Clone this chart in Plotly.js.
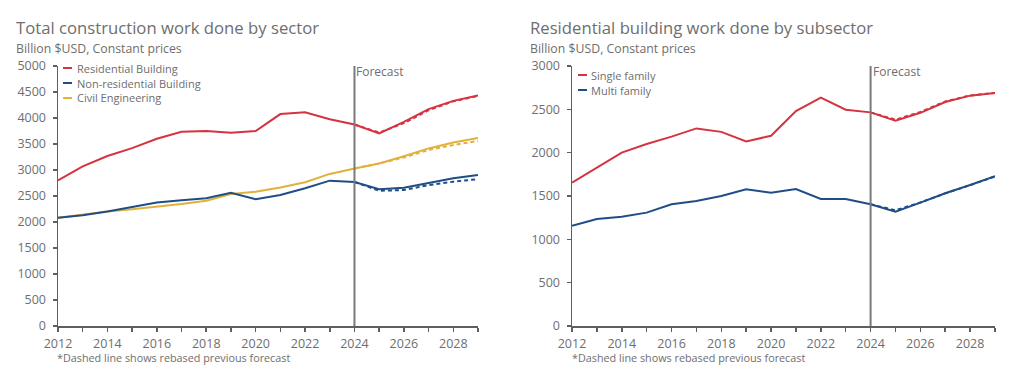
<!DOCTYPE html>
<html>
<head>
<meta charset="utf-8">
<script src="https://cdn.plot.ly/plotly-3.0.1.min.js"></script>
<style>html,body{margin:0;padding:0;background:#fff;}#chart{width:1024px;height:384px;}</style>
</head>
<body>
<div id="chart"></div>
<script>
// ---- Data ----
const years = [2012,2013,2014,2015,2016,2017,2018,2019,2020,2021,2022,2023,2024,2025,2026,2027,2028,2029];
const forecastYears = [2024,2025,2026,2027,2028,2029];

// Left chart: Total construction work done by sector (Billion $USD)
const residential    = [2800,3070,3270,3420,3600,3735,3750,3715,3750,4075,4110,3975,3875,3705,3925,4170,4330,4435];
const nonResidential = [2080,2130,2200,2290,2375,2420,2455,2560,2440,2520,2650,2795,2770,2630,2660,2750,2840,2905];
const civil          = [2080,2140,2200,2245,2295,2345,2410,2540,2580,2665,2765,2925,3030,3125,3265,3415,3530,3615];
const residentialPrev    = [3875,3720,3900,4150,4320,4425];
const nonResidentialPrev = [2770,2600,2615,2710,2775,2825];
const civilPrev          = [3030,3125,3240,3385,3480,3560];

// Right chart: Residential building work done by subsector
const singleFamily = [1655,1830,2000,2100,2185,2280,2240,2130,2195,2480,2635,2495,2465,2370,2460,2585,2658,2688];
const multiFamily  = [1155,1235,1260,1308,1405,1442,1500,1577,1538,1581,1465,1465,1404,1319,1423,1531,1627,1730];
const singleFamilyPrev = [2465,2380,2470,2590,2660,2690];
const multiFamilyPrev  = [1404,1335,1425,1530,1625,1725];

const leftLegend  = ['Residential Building', 'Non-residential Building', 'Civil Engineering'];
const rightLegend = ['Single family', 'Multi family'];
const forecastStart = 2024;

// ---- Styling ----
const RED = '#d5333f', BLUE = '#1f4d87', GOLD = '#e2b13a';
const TXT = '#6e6e6e', AX = '#5f5f5f';
const FONT = 'Open Sans, Noto Sans, sans-serif';
const W = 1024, H = 384;
const px = x => x / W;
const py = y => 1 - y / H;

function line(x, y, color, xa, ya, dash) {
  return {x: x, y: y, type: 'scatter', mode: 'lines', xaxis: xa, yaxis: ya,
          line: {color: color, width: 2, dash: dash || 'solid'}, showlegend: false, hoverinfo: 'x+y'};
}

const traces = [
  line(forecastYears, residentialPrev, RED, 'x', 'y', '4px,3px'),
  line(forecastYears, nonResidentialPrev, BLUE, 'x', 'y', '4px,3px'),
  line(forecastYears, civilPrev, GOLD, 'x', 'y', '4px,3px'),
  line(years, residential, RED, 'x', 'y'),
  line(years, civil, GOLD, 'x', 'y'),
  line(years, nonResidential, BLUE, 'x', 'y'),
  line(forecastYears, singleFamilyPrev, RED, 'x2', 'y2', '4px,3px'),
  line(forecastYears, multiFamilyPrev, BLUE, 'x2', 'y2', '4px,3px'),
  line(years, singleFamily, RED, 'x2', 'y2'),
  line(years, multiFamily, BLUE, 'x2', 'y2')
];

function xAxis(domain, anchor) {
  return {domain: domain, anchor: anchor, range: [2012, 2029], dtick: 2, tick0: 2012,
          showgrid: false, zeroline: false, showline: true, linecolor: AX, linewidth: 1.5,
          ticks: 'outside', ticklen: 4, tickcolor: AX, tickwidth: 1.5, ticklabelstandoff: 1,
          minor: {dtick: 1, ticks: 'outside', ticklen: 4, tickcolor: AX, tickwidth: 1.5},
          tickfont: {family: FONT, size: 12.5, color: TXT}, fixedrange: true};
}
function yAxis(max, anchor) {
  return {domain: [58 / H, 318 / H], anchor: anchor, range: [0, max], dtick: 500,
          showgrid: false, zeroline: false, showline: true, linecolor: AX, linewidth: 1.5,
          ticks: 'outside', ticklen: 4, tickcolor: AX, tickwidth: 1.5, ticklabelstandoff: 4,
          tickfont: {family: FONT, size: 12.5, color: TXT}, fixedrange: true};
}

function txt(x, y, text, size) {
  return {xref: 'paper', yref: 'paper', x: px(x), y: py(y), text: text,
    showarrow: false, xanchor: 'left', yanchor: 'middle', borderpad: 0,
    font: {family: FONT, size: size, color: TXT}};
}

const annotations = [
  txt(15, 27, 'Total construction work done by sector', 16.7),
  txt(15, 48, 'Billion $USD, Constant prices', 12.3),
  txt(529, 27, 'Residential building work done by subsector', 16.7),
  txt(529, 48, 'Billion $USD, Constant prices', 12.3),
  txt(76, 68, leftLegend[0], 11),
  txt(76, 83, leftLegend[1], 11),
  txt(76, 98, leftLegend[2], 11),
  txt(590, 75, rightLegend[0], 11),
  txt(590, 90, rightLegend[1], 11),
  txt(56, 357, '*Dashed line shows rebased previous forecast', 10.8),
  txt(571, 357, '*Dashed line shows rebased previous forecast', 10.8),
  {xref: 'x', yref: 'paper', x: forecastStart, y: py(71), text: 'Forecast', showarrow: false,
   xanchor: 'left', yanchor: 'middle', font: {family: FONT, size: 12, color: TXT}},
  {xref: 'x2', yref: 'paper', x: forecastStart, y: py(71), text: 'Forecast', showarrow: false,
   xanchor: 'left', yanchor: 'middle', font: {family: FONT, size: 12, color: TXT}}
];

function legLine(x, y, color) {
  return {type: 'line', xref: 'paper', yref: 'paper', x0: px(x), x1: px(x + 9), y0: py(y), y1: py(y),
          line: {color: color, width: 2}};
}

const shapes = [
  {type: 'line', xref: 'x', yref: 'y domain', x0: forecastStart, x1: forecastStart, y0: 0, y1: 1,
   line: {color: '#7a7a7a', width: 2}},
  {type: 'line', xref: 'x2', yref: 'y2 domain', x0: forecastStart, x1: forecastStart, y0: 0, y1: 1,
   line: {color: '#7a7a7a', width: 2}},
  legLine(63, 68, RED), legLine(63, 83, BLUE), legLine(63, 98, GOLD),
  legLine(578, 75, RED), legLine(578, 90, BLUE)
];

const layout = {
  width: W, height: H, margin: {l: 0, r: 0, t: 0, b: 0},
  paper_bgcolor: '#ffffff', plot_bgcolor: '#ffffff', showlegend: false,
  xaxis: xAxis([58 / W, 478 / W], 'y'),
  yaxis: yAxis(5000, 'x'),
  xaxis2: xAxis([572 / W, 995 / W], 'y2'),
  yaxis2: yAxis(3000, 'x2'),
  annotations: annotations, shapes: shapes,
  font: {family: FONT, color: TXT}
};

Plotly.newPlot('chart', traces, layout, {displayModeBar: false, staticPlot: true});
</script>
</body>
</html>
